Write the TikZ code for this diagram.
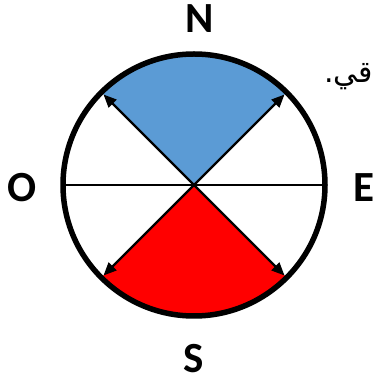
\documentclass[tikz,border=0pt]{standalone}
\usepackage{fontspec}
\setmainfont{Carlito}
\newfontfamily\arabicfont[Script=Arabic]{DejaVu Sans}
\TeXXeTstate=1
\usetikzlibrary{arrows.meta,calc}
\definecolor{secblue}{HTML}{5B9BD5}
\definecolor{secred}{HTML}{FF0000}
\begin{document}
\begin{tikzpicture}[x=1pt,y=1pt,
  dirlabel/.style={font=\fontsize{43}{43}\selectfont\bfseries, inner sep=0pt},
  ray/.style={line width=2.2pt, -{Triangle[length=13pt,width=11pt]}},
  rim/.style={line width=5.5pt},
  diam/.style={line width=2pt}]
\useasboundingbox (0,0) rectangle (374,383);
\coordinate (c) at (194,198);
% sectors
\fill[secblue] (c) -- ++(45:129) arc[start angle=45,end angle=135,radius=129] -- cycle;
\fill[secred] (c) -- ++(225:129) arc[start angle=225,end angle=315,radius=129] -- cycle;
% diameter
\coordinate (w) at ($(c)+(180:131)$);
\coordinate (e) at ($(c)+(0:131)$);
\draw[diam] (w) -- (e);
% arrows
\coordinate (ne) at ($(c)+(45:128)$);
\coordinate (nw) at ($(c)+(135:128)$);
\coordinate (sw) at ($(c)+(225:128)$);
\coordinate (se) at ($(c)+(315:128)$);
\draw[ray] (c) -- (ne);
\draw[ray] (c) -- (nw);
\draw[ray] (c) -- (sw);
\draw[ray] (c) -- (se);
% rim
\draw[rim] (c) circle[radius=131];
% labels
\node[dirlabel] (N) at (200,364) {N};
\node[dirlabel] (S) at (194,24) {S};
\node[dirlabel] (O) at (22,195) {O};
\node[dirlabel] (E) at (364,195) {E};
\node[anchor=base west, inner sep=0pt, font=\arabicfont\fontsize{30}{30}\selectfont] (ar) at (324,300) {\beginR قي.\endR};
\end{tikzpicture}
\end{document}
